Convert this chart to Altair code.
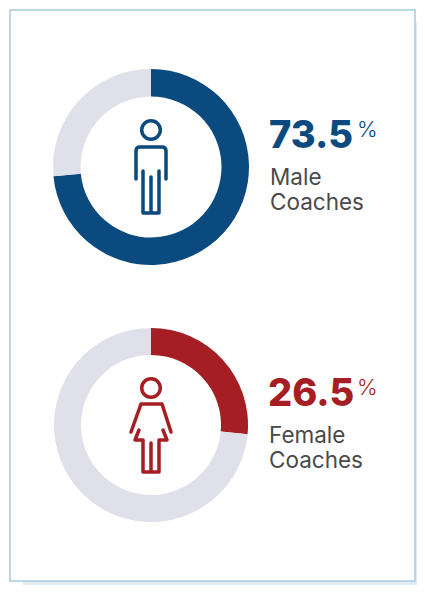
import altair as alt
import pandas as pd

groups = ["Male", "Female"]
shares = [73.5, 26.5]
rest_label = "Other"
captions = ["Coaches", "Coaches"]
BLUE, RED, GREY = "#0a4a7e", "#a51e23", "#e0e0ea"
INK = "#4a4a4a"
OFF = 8  # page margin


def px(v):
    return alt.value(v - OFF)


def n(v):
    return f"{v / 50:.4f}"


def poly(points):
    cmd = []
    for i, (x, y) in enumerate(points):
        cmd.append(("M" if i == 0 else "L") + n(x) + " " + n(y))
    return " ".join(cmd)


def circle(cx, cy, r):
    return (f"M{n(cx - r)} {n(cy)} A{n(r)} {n(r)} 0 1 1 {n(cx + r)} {n(cy)} "
            f"A{n(r)} {n(r)} 0 1 1 {n(cx - r)} {n(cy)} Z")


MALE_ICON = " ".join([
    circle(0, -37, 9.3),
    f"M{n(-15)} {n(12)} L{n(-15)} {n(-16)} Q{n(-15)} {n(-20)} {n(-11)} {n(-20)} "
    f"L{n(11)} {n(-20)} Q{n(15)} {n(-20)} {n(15)} {n(-16)} L{n(15)} {n(12)}",
    poly([(-8, 4), (-8, 46), (8, 46), (8, 4)]),
    poly([(0, 10), (0, 46)]),
])
FEMALE_ICON = " ".join([
    circle(0, -37, 9.3),
    poly([(-20, 7), (-10, -21), (11, -21), (20, 7)]),
    poly([(-12, 5), (-16, 15), (-8, 15), (-8, 47), (8, 47), (8, 15), (16, 15), (12, 5)]),
    poly([(0, 18), (0, 47)]),
])

backdrop = pd.DataFrame({"k": [0]})
shadow = alt.Chart(backdrop).mark_rect(color="#e0ecf1").encode(
    x=px(23), x2=px(417), y=px(22), y2=px(585))
frame = alt.Chart(backdrop).mark_rect(
    fill="white", stroke="#a9cadb", strokeWidth=1.5
).encode(x=px(10), x2=px(415), y=px(10), y2=px(581))


def donut(group, share, color, cx, cy, r_out, r_in):
    df = pd.DataFrame({
        "part": [group, rest_label],
        "value": [share, 100 - share],
        "rank": [0, 1],
    })
    return alt.Chart(df).mark_arc().encode(
        theta=alt.Theta("value:Q", stack=True, scale=alt.Scale(domain=[0, 100])),
        order=alt.Order("rank:O"),
        color=alt.Color("part:N", legend=None,
                        scale=alt.Scale(domain=[group, rest_label], range=[color, GREY])),
        x=px(cx), y=px(cy),
        radius=alt.value(r_out), radius2=alt.value(r_in),
    )


def icon(path, color, cx, cy):
    return alt.Chart(backdrop).mark_point(
        shape=path, size=10000, filled=False, stroke=color, strokeWidth=3.5,
        opacity=1, strokeCap="round", strokeJoin="round",
    ).encode(x=px(cx), y=px(cy))


def label(text, x, y, size, color, weight="normal", font="Inter"):
    return alt.Chart(pd.DataFrame({"t": [text]})).mark_text(
        align="left", baseline="alphabetic", fontSize=size, color=color,
        fontWeight=weight, font=font,
    ).encode(text="t:N", x=px(x), y=px(y))


def block(group, share, caption, color, tx, base, cy, r_out, r_in, path):
    return [
        donut(group, share, color, 151, cy, r_out, r_in),
        icon(path, color, 151, cy),
        label(f"{share:.1f}", tx, base, 38, color, 800),
        label("%", 357, base - 11, 22, color, 300),
        label(group, tx + 1, base + 37, 22.5, INK),
        label(caption, tx + 1, base + 62, 22.5, INK),
    ]


layers = [shadow, frame]
layers += block(groups[0], shares[0], captions[0], BLUE, 269, 148, 167, 98, 70.5, MALE_ICON)
layers += block(groups[1], shares[1], captions[1], RED, 268, 406, 425, 97, 70, FEMALE_ICON)

chart = alt.layer(*layers).resolve_scale(theta="independent", color="independent").properties(
    width=409, height=577, padding=0, background="white",
    autosize=alt.AutoSizeParams(type="none"),
).configure_view(stroke=None)

chart.save("out.html", embed_options={"renderer": "svg", "actions": False})
